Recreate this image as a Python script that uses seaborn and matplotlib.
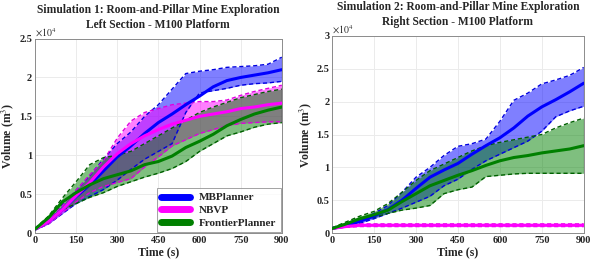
import numpy as np
import pandas as pd
import matplotlib
matplotlib.use("Agg")
import matplotlib.pyplot as plt
from matplotlib.lines import Line2D
import seaborn as sns

# time axis (s)
time_s = [0, 50, 100, 150, 200, 250, 300, 350, 400, 450,
          500, 550, 600, 650, 700, 750, 800, 850, 900]
planners = ["MBPlanner", "NBVP", "FrontierPlanner"]
colors = {"MBPlanner": "#0000ff", "NBVP": "#ff00ff", "FrontierPlanner": "#008000"}
edge_colors = {"MBPlanner": "#0000e0", "NBVP": "#e000e0", "FrontierPlanner": "#006000"}

# Simulation 1 - left section (volume in 1e4 m^3)
s1_mb_mean = [0.05, 0.15, 0.30, 0.47, 0.62, 0.80, 0.98, 1.12, 1.28, 1.42,
              1.53, 1.65, 1.76, 1.88, 1.96, 2.00, 2.03, 2.06, 2.10]
s1_mb_hi = [0.06, 0.18, 0.36, 0.55, 0.74, 0.95, 1.15, 1.30, 1.50, 1.65,
            1.85, 2.05, 2.08, 2.10, 2.13, 2.14, 2.15, 2.17, 2.26]
s1_mb_lo = [0.04, 0.12, 0.25, 0.38, 0.47, 0.56, 0.68, 0.82, 0.95, 1.05,
            1.15, 1.55, 1.80, 1.83, 1.86, 1.90, 1.92, 1.93, 1.95]
s1_nb_mean = [0.05, 0.15, 0.30, 0.48, 0.65, 0.85, 1.02, 1.15, 1.25, 1.33,
              1.40, 1.45, 1.50, 1.53, 1.56, 1.60, 1.62, 1.65, 1.67]
s1_nb_hi = [0.06, 0.18, 0.35, 0.55, 0.75, 0.93, 1.22, 1.44, 1.55, 1.60,
            1.65, 1.67, 1.69, 1.69, 1.71, 1.77, 1.82, 1.86, 1.90]
s1_nb_lo = [0.04, 0.12, 0.26, 0.40, 0.52, 0.60, 0.65, 0.70, 0.85, 0.98,
            1.12, 1.20, 1.28, 1.33, 1.38, 1.41, 1.42, 1.43, 1.43]
s1_fr_mean = [0.05, 0.20, 0.40, 0.52, 0.62, 0.70, 0.75, 0.80, 0.88, 0.92,
              0.99, 1.10, 1.18, 1.27, 1.38, 1.46, 1.53, 1.58, 1.62]
s1_fr_hi = [0.06, 0.22, 0.45, 0.66, 0.88, 0.97, 1.00, 1.05, 1.15, 1.25,
            1.35, 1.45, 1.55, 1.62, 1.68, 1.74, 1.78, 1.82, 1.85]
s1_fr_lo = [0.04, 0.15, 0.30, 0.38, 0.46, 0.52, 0.60, 0.66, 0.72, 0.77,
            0.83, 0.92, 1.05, 1.15, 1.25, 1.30, 1.36, 1.40, 1.42]

# Simulation 2 - right section (volume in 1e4 m^3)
s2_mb_mean = [0.07, 0.12, 0.18, 0.26, 0.36, 0.50, 0.68, 0.85, 0.96, 1.06,
              1.20, 1.33, 1.45, 1.60, 1.78, 1.92, 2.03, 2.15, 2.28]
s2_mb_hi = [0.08, 0.14, 0.20, 0.30, 0.42, 0.62, 0.85, 1.00, 1.18, 1.32,
            1.36, 1.43, 1.70, 2.02, 2.13, 2.27, 2.33, 2.40, 2.52]
s2_mb_lo = [0.06, 0.10, 0.15, 0.22, 0.30, 0.38, 0.47, 0.56, 0.72, 0.82,
            0.97, 1.10, 1.20, 1.30, 1.40, 1.55, 1.77, 1.86, 1.93]
s2_nb_mean = [0.07, 0.10, 0.12, 0.12, 0.12, 0.12, 0.12, 0.12, 0.12, 0.12,
              0.12, 0.12, 0.12, 0.12, 0.12, 0.12, 0.12, 0.12, 0.12]
s2_nb_hi = [0.08, 0.12, 0.14, 0.14, 0.14, 0.14, 0.14, 0.14, 0.14, 0.14,
            0.14, 0.14, 0.14, 0.14, 0.14, 0.14, 0.14, 0.14, 0.14]
s2_nb_lo = [0.06, 0.09, 0.10, 0.10, 0.10, 0.10, 0.10, 0.10, 0.10, 0.10,
            0.10, 0.10, 0.10, 0.10, 0.10, 0.10, 0.10, 0.10, 0.10]
s2_fr_mean = [0.07, 0.14, 0.22, 0.28, 0.35, 0.48, 0.60, 0.72, 0.80, 0.88,
              0.95, 1.03, 1.10, 1.15, 1.18, 1.22, 1.25, 1.28, 1.33]
s2_fr_hi = [0.08, 0.17, 0.26, 0.33, 0.45, 0.62, 0.80, 0.95, 1.05, 1.15,
            1.25, 1.33, 1.38, 1.42, 1.46, 1.50, 1.60, 1.68, 1.75]
s2_fr_lo = [0.06, 0.12, 0.18, 0.24, 0.30, 0.35, 0.38, 0.42, 0.60, 0.66,
            0.70, 0.86, 0.88, 0.90, 0.91, 0.91, 0.91, 0.91, 0.91]

sim1 = {"MBPlanner": (s1_mb_mean, s1_mb_lo, s1_mb_hi),
        "NBVP": (s1_nb_mean, s1_nb_lo, s1_nb_hi),
        "FrontierPlanner": (s1_fr_mean, s1_fr_lo, s1_fr_hi)}
sim2 = {"MBPlanner": (s2_mb_mean, s2_mb_lo, s2_mb_hi),
        "NBVP": (s2_nb_mean, s2_nb_lo, s2_nb_hi),
        "FrontierPlanner": (s2_fr_mean, s2_fr_lo, s2_fr_hi)}


def to_long(sim):
    rows = []
    for p in planners:
        mean, lo, hi = sim[p]
        for t, m, l, h in zip(time_s, mean, lo, hi):
            rows.append({"time": t, "planner": p, "mean": m, "lo": l, "hi": h})
    return pd.DataFrame(rows)


def draw(ax, sim, title1, title2, ymax):
    df = to_long(sim)
    for p in planners:
        d = df[df["planner"] == p]
        ax.fill_between(d["time"], d["lo"], d["hi"], color=colors[p],
                        alpha=0.5, lw=0, zorder=2)
        for col in ["lo", "hi"]:
            ax.plot(d["time"], d[col], color=edge_colors[p], lw=1.0,
                    dashes=(3, 2), zorder=3)
        ax.vlines(900, d["lo"].iloc[-1], d["hi"].iloc[-1], color="k", lw=0.8, zorder=3)
    sns.lineplot(data=df, x="time", y="mean", hue="planner", palette=colors,
                 hue_order=planners, lw=2.2, legend=False, ax=ax, zorder=4)
    ax.set_xlim(0, 900)
    ax.set_ylim(0, ymax)
    ax.set_xticks([0, 150, 300, 450, 600, 750, 900])
    yt = np.arange(0, ymax + 0.01, 0.5)
    ax.set_yticks(yt)
    ax.set_yticklabels(["%g" % v for v in yt])
    ax.set_xlabel("Time (s)", fontweight="bold", fontsize=8.5, labelpad=1)
    ax.set_ylabel("Volume (m$^3$)", fontweight="bold", fontsize=8.5, labelpad=2)
    # two title lines as separate texts so the second one stays clear of the x10^4 label
    ax.set_title(title2, fontweight="bold", fontsize=8.3, pad=7.5)
    ax.annotate(title1, xy=(0.5, 1.0), xycoords="axes fraction",
                xytext=(0, 16.5), textcoords="offset points",
                ha="center", va="bottom", fontweight="bold", fontsize=8.3)
    ax.text(0.0, 1.0, r"$\times10^4$", transform=ax.transAxes, fontsize=7,
            va="bottom", ha="left")
    ax.grid(True, color="#ebebeb", lw=0.7)
    ax.tick_params(direction="in", length=2.5, labelsize=7.5, pad=2,
                   colors="#262626")
    for lab in ax.get_xticklabels() + ax.get_yticklabels():
        lab.set_fontweight("bold")
    for s in ax.spines.values():
        s.set_visible(True)
        s.set_color("#8c8c8c")
        s.set_linewidth(0.7)


sns.set_style("whitegrid")
plt.rcParams["font.family"] = ["Liberation Serif", "DejaVu Serif"]
plt.rcParams["mathtext.fontset"] = "stix"

fig = plt.figure(figsize=(5.92, 2.64), dpi=100)
ax1 = fig.add_axes([0.059, 0.117, 0.417, 0.737])
ax2 = fig.add_axes([0.561, 0.117, 0.425, 0.747])

draw(ax1, sim1, "Simulation 1: Room-and-Pillar Mine Exploration",
     "Left Section - M100 Platform", 2.5)
draw(ax2, sim2, "Simulation 2: Room-and-Pillar Mine Exploration",
     "Right Section - M100 Platform", 3.0)

handles = [Line2D([0], [0], color=colors[p], lw=5) for p in planners]
leg = ax1.legend(handles, planners, loc="lower right", fontsize=8,
                 frameon=True, fancybox=False, borderaxespad=0.1,
                 handlelength=2.6, labelspacing=0.25, borderpad=0.4)
leg.get_frame().set_edgecolor("#8c8c8c")
leg.get_frame().set_linewidth(0.7)
for txt in leg.get_texts():
    txt.set_fontweight("bold")

fig.savefig("out.png", dpi=100)
